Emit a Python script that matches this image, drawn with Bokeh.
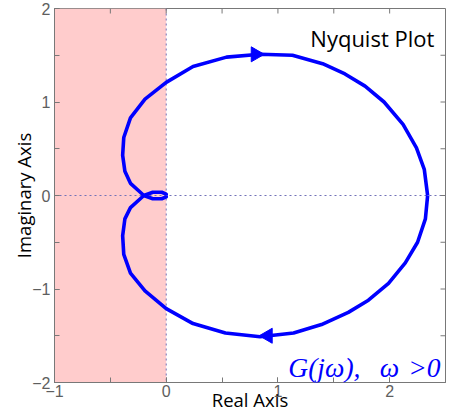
from bokeh.plotting import figure
from bokeh.models import Range1d, SingleIntervalTicker, BoxAnnotation, Span, Label
from bokeh.embed import file_html
from bokeh.resources import INLINE
import math

# omega > 0 branch (from omega = 0 to omega -> inf)
re_pos = [2.34, 2.32, 2.25, 2.14, 1.99, 1.81, 1.63, 1.39, 1.14, 0.84, 0.53, 0.24, 0.0, -0.19,
          -0.32, -0.38, -0.39, -0.37, -0.32, -0.2, -0.12, -0.04, 0.0, 0.0]
im_pos = [0.0, -0.25, -0.5, -0.72, -0.94, -1.12, -1.25, -1.38, -1.47, -1.51, -1.47, -1.37, -1.21, -1.02,
          -0.83, -0.63, -0.43, -0.25, -0.13, 0.0, 0.035, 0.035, 0.015, 0.0]
# omega < 0 branch (from omega -> -inf to omega = 0)
re_neg = [0.0, 0.0, -0.04, -0.12, -0.2, -0.32, -0.37, -0.39, -0.38, -0.32, -0.19, 0.0, 0.24, 0.54,
          0.84, 1.13, 1.40, 1.60, 1.78, 1.95, 2.12, 2.24, 2.31, 2.34]
im_neg = [0.0, -0.015, -0.035, -0.035, 0.0, 0.13, 0.26, 0.43, 0.62, 0.83, 1.03, 1.21, 1.38, 1.48,
          1.51, 1.50, 1.41, 1.30, 1.17, 1.00, 0.76, 0.51, 0.28, 0.0]
# direction arrows
arrow_x = [0.80, 0.91]
arrow_y = [1.51, -1.50]
arrow_angle = [-math.pi / 2, math.pi / 2]
# critical point
crit_x = [-1.0]
crit_y = [0.0]

# tick positions for the box (top and right sides)
top_ticks = [-1.0, -0.5, 0.0, 0.5, 1.0, 1.5, 2.0]
right_ticks = [-1.5, -1.0, -0.5, 0.0, 0.5, 1.0, 1.5]

X0, X1, Y0, Y1 = -1.0, 2.5, -2.0, 2.0
W, H = 449, 415
BL, BR, BT, BB = 54, 4, 8, 33
FW, FH = W - BL - BR, H - BT - BB
TICK = 5

GRAY = "#787878"
LBL = "#5e5e5e"
BLUE = "#0000ff"

p = figure(width=W, height=H, output_backend="svg", toolbar_location=None,
           x_range=Range1d(X0, X1), y_range=Range1d(Y0, Y1),
           min_border_left=BL, min_border_top=BT, min_border_right=BR, min_border_bottom=BB,
           background_fill_color="white", border_fill_color="white",
           outline_line_color=GRAY)
p.grid.visible = False

shade = BoxAnnotation(left=-1, right=0, fill_color="#ffcccc", fill_alpha=1.0, line_color=None,
                      level="underlay")
p.add_layout(shade)
p.add_layout(Span(location=0, dimension="width", line_color="#7272b8", line_dash="2 3",
                  line_width=1, level="underlay"))
p.add_layout(Span(location=0, dimension="height", line_color="#7272b8", line_dash="2 3",
                  line_width=1, level="underlay"))

# inward ticks on the top and right sides of the box
dy = TICK * (Y1 - Y0) / FH
dx = TICK * (X1 - X0) / FW
p.segment(x0=top_ticks, y0=[Y1] * len(top_ticks), x1=top_ticks, y1=[Y1 - dy] * len(top_ticks),
          line_color=GRAY, line_width=1)
p.segment(x0=[X1] * len(right_ticks), y0=right_ticks, x1=[X1 - dx] * len(right_ticks), y1=right_ticks,
          line_color=GRAY, line_width=1)

p.line(re_pos, im_pos, line_color=BLUE, line_width=3.6, line_join="round")
p.line(re_neg, im_neg, line_color=BLUE, line_width=3.6, line_join="round")
p.scatter(arrow_x, arrow_y, marker="triangle", angle=arrow_angle, size=15,
          fill_color=BLUE, line_color=BLUE)
p.scatter(crit_x, crit_y, marker="cross", size=7, line_color="red", line_width=1)

for ax in (p.xaxis[0], p.yaxis[0]):
    ax.ticker = SingleIntervalTicker(interval=1, num_minor_ticks=2)
    ax.axis_line_color = GRAY
    ax.major_tick_line_color = GRAY
    ax.minor_tick_line_color = GRAY
    ax.major_tick_in = TICK
    ax.major_tick_out = 0
    ax.minor_tick_in = TICK
    ax.minor_tick_out = 0
    ax.major_label_text_font = "Liberation Sans"
    ax.major_label_text_font_size = "16px"
    ax.major_label_text_color = LBL
    ax.axis_label_text_font = "Open Sans"
    ax.axis_label_text_font_size = "18.5px"
    ax.axis_label_text_font_style = "normal"
    ax.axis_label_text_color = "black"

p.xaxis.major_label_overrides = {-1: "\u22121"}
p.yaxis.major_label_overrides = {-1: "\u22121", -2: "\u22122"}
p.xaxis.axis_label = "Real Axis"
p.yaxis.axis_label = "Imaginary Axis"
p.xaxis.major_label_standoff = 2
p.xaxis.axis_label_standoff = -13
p.yaxis.major_label_standoff = 4
p.yaxis.axis_label_standoff = -7

p.add_layout(Label(x=2.40, y=1.68, text="Nyquist Plot", text_align="right",
                   text_baseline="alphabetic", text_font="Open Sans", text_font_size="22px",
                   text_color="black"))
p.add_layout(Label(x=2.456, y=-1.84,
                   text="G(j\u03c9),\u00a0\u00a0\u2009\u03c9\u00a0\u200a>0", text_align="right",
                   text_baseline="alphabetic", text_font="Liberation Serif",
                   text_font_style="italic", text_font_size="27.5px", text_color=BLUE))

open("out.html", "w").write(file_html(p, INLINE))
